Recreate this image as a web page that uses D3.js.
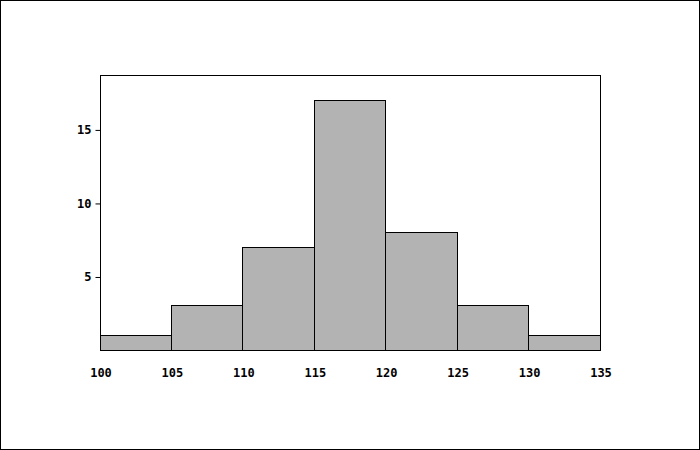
<!DOCTYPE html>
<html>
<head>
<meta charset="utf-8">
<style>
body { margin: 0; }
text { font: bold 12px "DejaVu Sans Mono", monospace; fill: #000; }
</style>
</head>
<body>
<script src="https://cdn.jsdelivr.net/npm/d3@7"></script>
<script>
// histogram bins and counts
var binStarts = [100, 105, 110, 115, 120, 125, 130];
var binWidth = 5;
var counts = [1, 3, 7, 17, 8, 3, 1];
var xTicks = [100, 105, 110, 115, 120, 125, 130, 135];
var yTicks = [5, 10, 15];

var width = 700, height = 450;
var plotLeft = 100, plotRight = 600, plotTop = 75, plotBottom = 350;

var svg = d3.select("body").append("svg")
    .attr("width", width)
    .attr("height", height);

svg.append("rect")
    .attr("x", 0.5).attr("y", 0.5)
    .attr("width", width - 1).attr("height", height - 1)
    .attr("fill", "#fff").attr("stroke", "#000");

var x = d3.scaleLinear().domain([100, 135]).range([plotLeft, plotRight]);
var y = d3.scaleLinear().domain([0, d3.max(counts) * 1.1]).range([plotBottom, plotTop]);

svg.append("rect")
    .attr("x", plotLeft + 0.5).attr("y", plotTop + 0.5)
    .attr("width", plotRight - plotLeft).attr("height", plotBottom - plotTop)
    .attr("fill", "none").attr("stroke", "#000");

// snap edges to whole pixels so lines stay crisp
function px(v) { return Math.floor(v) + 0.5; }

svg.append("g")
  .selectAll("rect")
  .data(counts)
  .enter().append("rect")
    .attr("x", function(d, i) { return px(x(binStarts[i])); })
    .attr("y", function(d) { return px(y(d)); })
    .attr("width", function(d, i) { return Math.floor(x(binStarts[i] + binWidth)) - Math.floor(x(binStarts[i])); })
    .attr("height", function(d) { return Math.floor(y(0)) - Math.floor(y(d)); })
    .attr("fill", "#b3b3b3")
    .attr("stroke", "#000");

var yAxis = svg.append("g")
    .attr("transform", "translate(" + (plotLeft + 0.5) + ",0.5)")
    .call(d3.axisLeft(y).tickValues(yTicks).tickSize(5).tickPadding(4));
yAxis.select(".domain").remove();
yAxis.selectAll("line").attr("stroke", "#000");
yAxis.selectAll("text").attr("fill", null);

var xAxis = svg.append("g")
    .attr("transform", "translate(0.5," + (plotBottom + 18) + ")")
    .call(d3.axisBottom(x).tickValues(xTicks).tickSize(0).tickPadding(0));
xAxis.select(".domain").remove();
xAxis.selectAll("text").attr("fill", null);
</script>
</body>
</html>
